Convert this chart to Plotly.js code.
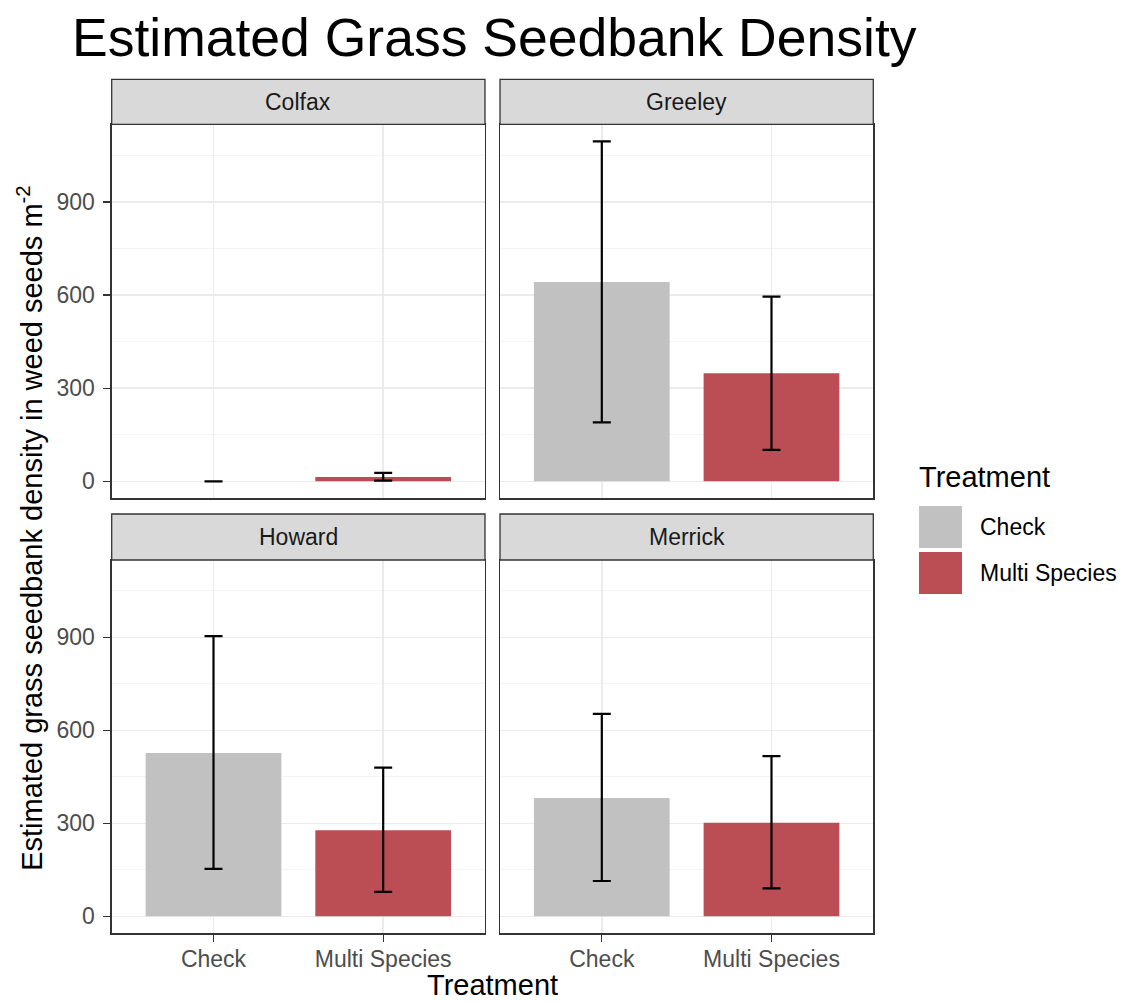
<!DOCTYPE html>
<html>
<head>
<meta charset="utf-8">
<script src="https://cdn.plot.ly/plotly-3.0.1.min.js"></script>
<style>html,body{margin:0;padding:0;background:#fff;}#chart{width:1122px;height:1002px;}</style>
</head>
<body>
<div id="chart"></div>
<script>
// ---- data ----
const sites = ['Colfax', 'Greeley', 'Howard', 'Merrick'];
const treatments = ['Check', 'Multi Species'];
const checkMean  = [0, 642, 527, 382];
const checkLower = [0, 190, 153, 114];
const checkUpper = [0, 1095, 904, 653];
const multiMean  = [14, 348, 278, 302];
const multiLower = [2, 101, 79, 90];
const multiUpper = [27, 595, 480, 517];
const yTicks = [0, 300, 600, 900];
const yMinorTicks = [150, 450, 750, 1050];
const treatmentColors = ['#c1c1c1', '#bb4d54'];

// ---- layout geometry (pixels in a 1122x1002 figure) ----
const W = 1122, H = 1002;
const colPx = [[111.7, 485], [500, 873.3]];
const rowPx = [[124.3, 498.3], [560, 933.3]];      // plot area top/bottom
const stripPx = [[79.3, 124.3], [514, 560]];       // strip top/bottom
const px2x = p => p / W;
const px2y = p => 1 - p / H;

const font = 'Liberation Sans, Arial, Helvetica, sans-serif';
const yMax = Math.max(...checkUpper, ...multiUpper);
const yRange = [-0.05 * yMax, 1.05 * yMax];

const traces = [];
const layout = {
  width: W, height: H,
  margin: {l: 0, r: 0, t: 0, b: 0},
  paper_bgcolor: '#ffffff',
  plot_bgcolor: '#ffffff',
  barmode: 'overlay',
  showlegend: false,
  font: {family: font, color: '#4d4d4d'},
  title: {
    text: 'Estimated Grass Seedbank Density',
    font: {family: font, size: 53.5, color: '#000000'},
    xref: 'paper', x: px2x(72), xanchor: 'left',
    yref: 'paper', y: px2y(37), yanchor: 'middle'
  },
  shapes: [],
  annotations: []
};

sites.forEach((site, i) => {
  const r = Math.floor(i / 2), c = i % 2;
  const n = i + 1;
  const xa = 'x' + (n === 1 ? '' : n), ya = 'y' + (n === 1 ? '' : n);
  const xKey = 'xaxis' + (n === 1 ? '' : n), yKey = 'yaxis' + (n === 1 ? '' : n);

  const means = [checkMean[i], multiMean[i]];
  const lowers = [checkLower[i], multiLower[i]];
  const uppers = [checkUpper[i], multiUpper[i]];

  treatments.forEach((t, k) => {
    traces.push({
      type: 'bar',
      x: [t], y: [means[k]],
      width: 0.8,
      xaxis: xa, yaxis: ya,
      name: t,
      marker: {color: treatmentColors[k], line: {width: 0}},
      error_y: {
        type: 'data', symmetric: false,
        array: [uppers[k] - means[k]],
        arrayminus: [means[k] - lowers[k]],
        color: '#000000', thickness: 2.2, width: 9
      },
      hoverinfo: 'x+y'
    });
  });

  layout[xKey] = {
    domain: [px2x(colPx[c][0]), px2x(colPx[c][1])],
    anchor: ya,
    type: 'category',
    categoryarray: treatments, categoryorder: 'array',
    range: [-0.6, 1.6],
    showgrid: true, gridcolor: '#ebebeb', gridwidth: 1.5,
    showline: true, mirror: true, linecolor: '#333333', linewidth: 1.3,
    zeroline: false,
    showticklabels: r === 1,
    ticks: r === 1 ? 'outside' : '',
    ticklen: 7, tickwidth: 1.3, tickcolor: '#333333',
    ticklabelstandoff: -2,
    tickfont: {family: font, size: 23, color: '#4d4d4d'},
    fixedrange: true
  };
  layout[yKey] = {
    domain: [px2y(rowPx[r][1]), px2y(rowPx[r][0])],
    anchor: xa,
    range: yRange,
    tickvals: yTicks,
    ticktext: yTicks.map(String),
    showgrid: true, gridcolor: '#ebebeb', gridwidth: 1.5,
    minor: {tickvals: yMinorTicks, showgrid: true, gridcolor: '#f1f1f1', gridwidth: 0.8, ticks: ''},
    showline: true, mirror: true, linecolor: '#333333', linewidth: 1.3,
    zeroline: false,
    showticklabels: c === 0,
    ticks: c === 0 ? 'outside' : '',
    ticklen: 7, tickwidth: 1.3, tickcolor: '#333333',
    ticklabelstandoff: 4,
    tickfont: {family: font, size: 23, color: '#4d4d4d'},
    fixedrange: true
  };

  // strip
  layout.shapes.push({
    type: 'rect', xref: 'paper', yref: 'paper',
    x0: px2x(colPx[c][0]), x1: px2x(colPx[c][1]),
    y0: px2y(stripPx[r][1]), y1: px2y(stripPx[r][0]),
    fillcolor: '#d9d9d9', line: {color: '#333333', width: 1.3}, layer: 'above'
  });
  layout.annotations.push({
    text: site, showarrow: false, xref: 'paper', yref: 'paper',
    x: px2x((colPx[c][0] + colPx[c][1]) / 2), y: px2y((stripPx[r][0] + stripPx[r][1]) / 2),
    xanchor: 'center', yanchor: 'middle',
    font: {family: font, size: 23, color: '#1a1a1a'}
  });
});

// axis titles
layout.annotations.push({
  text: 'Treatment', showarrow: false, xref: 'paper', yref: 'paper',
  x: px2x((colPx[0][0] + colPx[1][1]) / 2), y: 0,
  xanchor: 'center', yanchor: 'bottom', borderpad: 0,
  font: {family: font, size: 29, color: '#000000'}
});
layout.annotations.push({
  text: 'Estimated grass seedbank density in weed seeds m<sup>-2</sup>',
  showarrow: false, xref: 'paper', yref: 'paper', textangle: -90,
  x: px2x(30), y: px2y((rowPx[0][0] + rowPx[1][1]) / 2),
  xanchor: 'center', yanchor: 'middle',
  font: {family: font, size: 29, color: '#000000'}
});

// legend (drawn manually to match large ggplot keys)
layout.annotations.push({
  text: 'Treatment', showarrow: false, xref: 'paper', yref: 'paper',
  x: px2x(917), y: px2y(477), xanchor: 'left', yanchor: 'middle',
  font: {family: font, size: 29, color: '#000000'}
});
const keyTop = [506, 552];
treatments.forEach((t, k) => {
  layout.shapes.push({
    type: 'rect', xref: 'paper', yref: 'paper',
    x0: px2x(919), x1: px2x(962),
    y0: px2y(keyTop[k] + 42), y1: px2y(keyTop[k]),
    fillcolor: treatmentColors[k], line: {width: 0}
  });
  layout.annotations.push({
    text: t, showarrow: false, xref: 'paper', yref: 'paper',
    x: px2x(978), y: px2y(keyTop[k] + 21), xanchor: 'left', yanchor: 'middle',
    font: {family: font, size: 23, color: '#000000'}
  });
});

Plotly.newPlot('chart', traces, layout, {displayModeBar: false, staticPlot: true});
</script>
</body>
</html>
